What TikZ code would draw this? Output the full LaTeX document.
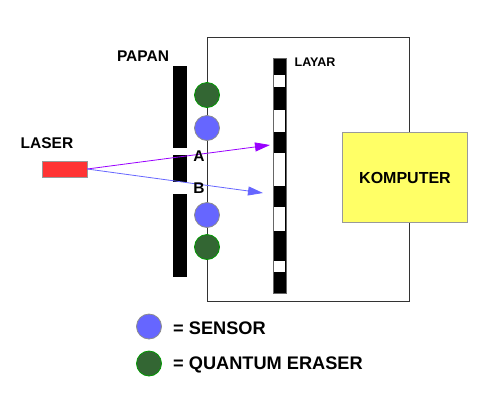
\documentclass[tikz,border=0pt]{standalone}
\usepackage{fontspec}
\setmainfont{Liberation Sans}
\usetikzlibrary{arrows.meta}
\definecolor{sensorblue}{HTML}{6666FF}
\definecolor{erasergreen}{HTML}{336633}
\definecolor{laserred}{HTML}{FF3333}
\definecolor{beamviolet}{HTML}{9900FF}
\definecolor{pcyellow}{HTML}{FFFF66}
\tikzset{
  sensor/.style={circle, fill=sensorblue, draw=black!45, line width=0.8pt, minimum size=25pt, inner sep=0pt},
  eraser/.style={circle, fill=erasergreen, draw=green!60!black, line width=0.8pt, minimum size=25pt, inner sep=0pt},
  lbl/.style={inner sep=0pt, font=\fontsize{15.5}{18}\selectfont\bfseries},
  legendtxt/.style={inner sep=0pt, anchor=west, font=\fontsize{18.2}{21}\selectfont\bfseries},
  beam/.style={line width=0.8pt, -{Triangle[length=15pt,width=9pt]}}
}
\begin{document}
\begin{tikzpicture}[x=1pt, y=-1pt]
			%%%%% START %%%%%
			\useasboundingbox (0, 0) rectangle (500, 408);
			
			% kotak peralatan
			\draw[black!80, line width=0.9pt] (207, 37) rectangle (409, 301);
			
			% papan
			\fill[black] (173, 66) rectangle (187, 148);
			\fill[black] (173, 155) rectangle (187, 182);
			\fill[black] (173, 194) rectangle (187, 277);
			\node[lbl] (papan) at (143, 56) {PAPAN};
			
			% layar
			\draw[fill=black, draw=black!60] (273, 58) rectangle (286, 293);
			\foreach \ya/\yb in {75/87, 110/132, 153/186, 207/231, 261/272}
				\fill[white] (274, \ya) rectangle (285, \yb);
			\node[lbl, font=\fontsize{12.5}{14}\selectfont\bfseries] (layar) at (315, 62) {LAYAR};
			
			% sensor dan quantum eraser
			\node[eraser] (e1) at (207, 95) {};
			\node[sensor] (s1) at (207, 128) {};
			\node[sensor] (s2) at (207, 215) {};
			\node[eraser] (e2) at (207, 247) {};
			
			% komputer
			\node[draw=black!40, fill=pcyellow, line width=0.9pt, minimum width=125pt, minimum height=90pt, inner sep=0pt] (komputer) at (405, 177.5) {};
			\node[lbl, font=\fontsize{16}{19}\selectfont\bfseries] at (komputer.center) {KOMPUTER};
			
			% laser
			\node[draw=black!40, fill=laserred, minimum width=45pt, minimum height=16pt, inner sep=0pt] (laser) at (64.5, 169) {};
			\node[lbl] (laserlbl) at (47, 143.5) {LASER};
			
			\coordinate (hitA) at (270, 145);
			\coordinate (hitB) at (263, 193);
			\draw[beam, beamviolet] (laser.east) -- (hitA);
			\draw[beam, sensorblue] (laser.east) -- (hitB);
			\node[lbl] (A) at (199, 156) {A};
			\node[lbl] (B) at (199, 188) {B};
			
			% keterangan
			\node[sensor] (legs) at (149, 326.5) {};
			\node[legendtxt] at (173, 328.5) {= SENSOR};
			\node[eraser] (lege) at (149, 363.5) {};
			\node[legendtxt] at (173, 365) {= QUANTUM ERASER};
			
			%%%%% END %%%%%
\end{tikzpicture}
\end{document}
